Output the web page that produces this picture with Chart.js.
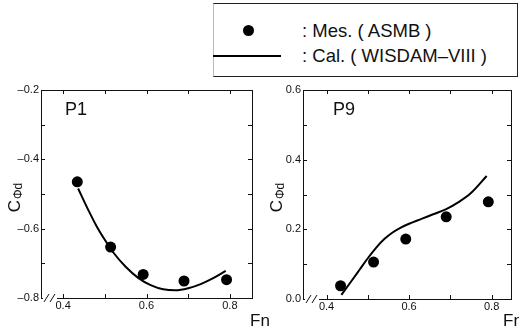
<!DOCTYPE html>
<html lang="en">
<head>
    <meta charset="UTF-8">
    <title>C_phi_d vs Fn (P1, P9)</title>
    <script src="https://cdn.jsdelivr.net/npm/chart.js"></script>
    <style>
        body {
            margin: 0;
            width: 519px;
            height: 331px;
            position: relative;
            background: #fff;
            font-family: "Liberation Sans", Arial, Helvetica, sans-serif;
            overflow: hidden;
        }
        .panel { position: absolute; }
        #legend {
            position: absolute;
            left: 213px;
            top: 3px;
            width: 303px;
            height: 72px;
            border: 1px solid #222;
            border-left-color: #bbb;
        }
        #legend .dot {
            position: absolute;
            left: 29px;
            top: 21px;
            width: 11px;
            height: 11px;
            border-radius: 50%;
            background: #000;
        }
        #legend .line {
            position: absolute;
            left: -1px;
            top: 51px;
            width: 68px;
            height: 2px;
            background: #000;
        }
        #legend .txt {
            position: absolute;
            left: 88px;
            font-size: 18.5px;
            color: #111;
            white-space: nowrap;
        }
    </style>
</head>
<body>
    <div id="legend">
        <div class="dot"></div>
        <div class="txt" style="top:16px">: Mes. ( ASMB )</div>
        <div class="line"></div>
        <div class="txt" style="top:41px">: Cal. ( WISDAM–VIII )</div>
    </div>
    <div class="panel" style="left:0;top:80px"><canvas id="p1" width="270" height="251"></canvas></div>
    <div class="panel" style="left:262px;top:80px"><canvas id="p9" width="257" height="251"></canvas></div>
    <script>
        // measured (ASMB)
        const fnMes = [0.434, 0.514, 0.592, 0.690, 0.792];
        const p1Mes = [-0.465, -0.653, -0.732, -0.751, -0.747];
        const p9Mes = [0.038, 0.106, 0.172, 0.236, 0.279];

        // calculated (WISDAM-VIII)
        const fnCalP1 = [0.436, 0.46, 0.48, 0.50, 0.52, 0.55, 0.58, 0.61, 0.64, 0.67, 0.70, 0.73, 0.76, 0.79];
        const p1Cal = [-0.484, -0.545, -0.592, -0.632, -0.668, -0.710, -0.742, -0.763, -0.775, -0.778, -0.772, -0.760, -0.743, -0.722];
        const fnCalP9 = [0.436, 0.46, 0.48, 0.50, 0.52, 0.54, 0.56, 0.58, 0.60, 0.63, 0.66, 0.69, 0.72, 0.75, 0.788];
        const p9Cal = [0.012, 0.051, 0.084, 0.117, 0.147, 0.172, 0.191, 0.205, 0.216, 0.230, 0.244, 0.258, 0.278, 0.304, 0.353];

        // ticks
        const xTicks = [0.4, 0.5, 0.6, 0.7, 0.8];
        const xTickLabels = ['0.4', '', '0.6', '', '0.8'];
        const p1YTicks = [-0.8, -0.7, -0.6, -0.5, -0.4, -0.3, -0.2];
        const p1YTickLabels = ['–0.8', '', '–0.6', '', '–0.4', '', '–0.2'];
        const p9YTicks = [0.0, 0.1, 0.2, 0.3, 0.4, 0.5, 0.6];
        const p9YTickLabels = ['0.0', '', '0.2', '', '0.4', '', '0.6'];

        const FONT = '"Liberation Sans", Arial, Helvetica, sans-serif';

        function zip(xs, ys) {
            return xs.map((x, i) => ({ x: x, y: ys[i] }));
        }

        // frame, inward ticks, axis break, panel label and axis titles
        const framePlugin = {
            id: 'frame',
            afterDraw(chart, args, opts) {
                const ctx = chart.ctx;
                const a = chart.chartArea;
                const xs = chart.scales.x, ys = chart.scales.y;
                const tl = 4;
                ctx.save();
                ctx.strokeStyle = '#111';
                ctx.lineWidth = 1;
                ctx.strokeRect(a.left + 0.5, a.top + 0.5, a.right - a.left, a.bottom - a.top);
                ctx.beginPath();
                xs.ticks.forEach(t => {
                    const px = Math.round(xs.getPixelForValue(t.value)) + 0.5;
                    ctx.moveTo(px, a.bottom); ctx.lineTo(px, a.bottom - tl);
                    ctx.moveTo(px, a.top); ctx.lineTo(px, a.top + tl);
                });
                ys.ticks.forEach(t => {
                    const py = Math.round(ys.getPixelForValue(t.value)) + 0.5;
                    ctx.moveTo(a.left, py); ctx.lineTo(a.left + tl, py);
                    ctx.moveTo(a.right, py); ctx.lineTo(a.right - tl, py);
                });
                ctx.stroke();

                // axis break "//"
                ctx.fillStyle = '#fff';
                ctx.fillRect(a.left + 2, a.bottom - 1, 14, 3);
                ctx.beginPath();
                ctx.moveTo(a.left + 3, a.bottom + 4); ctx.lineTo(a.left + 8, a.bottom - 4);
                ctx.moveTo(a.left + 9, a.bottom + 4); ctx.lineTo(a.left + 14, a.bottom - 4);
                ctx.stroke();

                ctx.fillStyle = '#111';
                ctx.textBaseline = 'middle';
                ctx.textAlign = 'left';
                ctx.font = '18px ' + FONT;
                ctx.fillText(opts.label, opts.labelX, 30);

                ctx.font = '17px ' + FONT;
                ctx.fillText('Fn', opts.fnX, 241);

                // y title: C with subscript phi d, rotated
                ctx.translate(15, 118);
                ctx.rotate(-Math.PI / 2);
                ctx.textAlign = 'left';
                ctx.font = '17px ' + FONT;
                const cw = ctx.measureText('C').width;
                ctx.font = '12px ' + FONT;
                const sw = ctx.measureText('Φd').width;
                const x0 = -(cw + sw) / 2;
                ctx.font = '17px ' + FONT;
                ctx.fillText('C', x0, 0);
                ctx.font = '12px ' + FONT;
                ctx.fillText('Φd', x0 + cw + 1, 4);
                ctx.restore();
            }
        };

        function makeChart(id, mes, calX, calY, yMin, yMax, yTicks, yLabels, xMin, xMax, padRight, xHeight, opts) {
            return new Chart(document.getElementById(id), {
                type: 'scatter',
                data: {
                    datasets: [
                        {
                            label: 'Mes. (ASMB)',
                            data: zip(fnMes, mes),
                            pointRadius: 5.5,
                            pointBackgroundColor: '#000',
                            pointBorderWidth: 0,
                            showLine: false
                        },
                        {
                            label: 'Cal. (WISDAM-VIII)',
                            data: zip(calX, calY),
                            showLine: true,
                            borderColor: '#000',
                            borderWidth: 2,
                            pointRadius: 0,
                            cubicInterpolationMode: 'monotone'
                        }
                    ]
                },
                options: {
                    responsive: false,
                    animation: false,
                    devicePixelRatio: 1,
                    layout: { padding: { top: 10, right: padRight, left: 0, bottom: 0 } },
                    plugins: {
                        legend: { display: false },
                        tooltip: { enabled: false },
                        frame: opts
                    },
                    scales: {
                        x: {
                            type: 'linear',
                            min: xMin,
                            max: xMax,
                            grid: { display: false, drawTicks: false },
                            border: { display: false },
                            afterBuildTicks: s => { s.ticks = xTicks.map(v => ({ value: v })); },
                            afterFit: s => { s.height = xHeight; },
                            ticks: {
                                padding: 1,
                                color: '#111',
                                font: { family: FONT, size: 11 },
                                maxRotation: 0,
                                autoSkip: false,
                                callback: (v, i) => xTickLabels[i]
                            }
                        },
                        y: {
                            min: yMin,
                            max: yMax,
                            grid: { display: false, drawTicks: false },
                            border: { display: false },
                            afterBuildTicks: s => { s.ticks = yTicks.map(v => ({ value: v })); },
                            afterFit: s => { s.width = 41; },
                            ticks: {
                                padding: 2,
                                color: '#111',
                                font: { family: FONT, size: 11 },
                                autoSkip: false,
                                callback: (v, i) => yLabels[i]
                            }
                        }
                    }
                },
                plugins: [framePlugin]
            });
        }

        makeChart('p1', p1Mes, fnCalP1, p1Cal, -0.8, -0.2, p1YTicks, p1YTickLabels,
            0.347, 0.853, 18, 33, { label: 'P1', labelX: 65, fnX: 250 });
        makeChart('p9', p9Mes, fnCalP9, p9Cal, 0.0, 0.6, p9YTicks, p9YTickLabels,
            0.343, 0.847, 8, 32, { label: 'P9', labelX: 71, fnX: 241 });
    </script>
</body>
</html>
